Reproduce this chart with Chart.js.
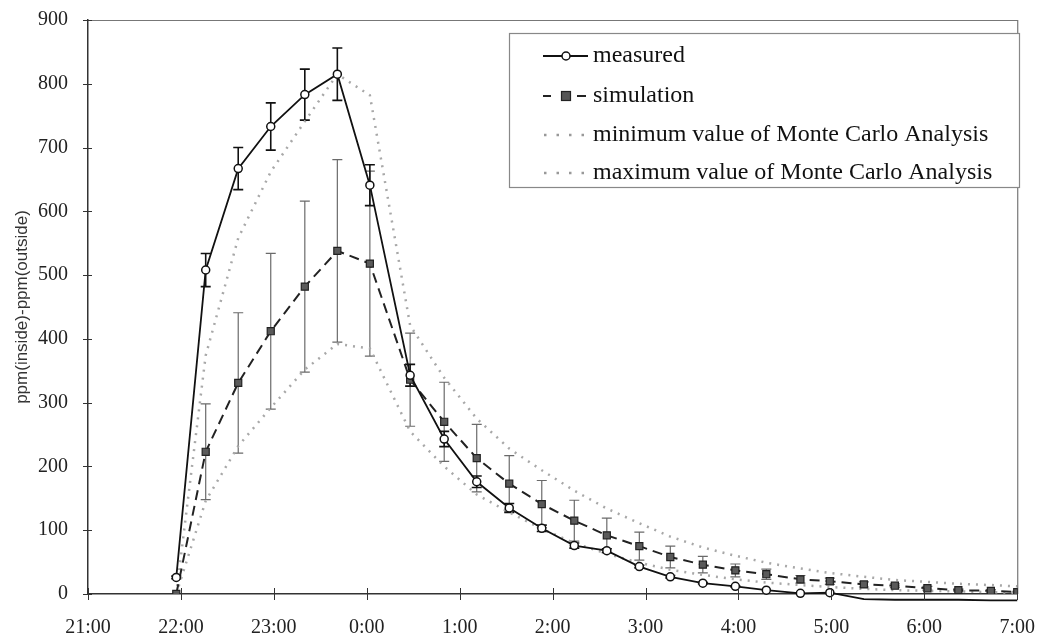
<!DOCTYPE html>
<html>
<head>
<meta charset="utf-8">
<title>ppm(inside)-ppm(outside)</title>
<script src="https://cdn.jsdelivr.net/npm/chart.js@4.4.1/dist/chart.umd.min.js"></script>
<style>
  html, body { margin: 0; padding: 0; background: #fff; }
  #wrap { width: 1049px; height: 636px; }
</style>
</head>
<body>
<div id="wrap"><canvas id="chart" width="1049" height="636"></canvas></div>
<script>
// sample times (clock time, night runs past midnight)
const times = ['21:57', '22:16', '22:37', '22:58', '23:20', '23:41', '0:02', '0:28', '0:50',
  '1:11', '1:32', '1:53', '2:14', '2:35', '2:56', '3:16', '3:37', '3:58', '4:18', '4:40',
  '4:59', '5:21', '5:41', '6:02', '6:22', '6:43', '7:00'];

const measured = [26, 508, 667, 733, 783, 815, 641, 343, 243, 176, 135, 103, 76, 68, 43,
  27, 17, 12, 6, 1, 2, -8, -9, -9, -9, -10, -10];
const measuredErr = [2, 26, 33, 37, 40, 41, 32, 17, 12, 9, 7, 5, 4, 3, 2, 2, 1, 1,
  0, 0, 0, 0, 0, 0, 0, 0, 0];

const simulation = [0, 223, 331, 412, 482, 538, 518, 336, 270, 213, 173, 141, 115, 92, 75,
  58, 46, 37, 31, 23, 20, 15, 13, 9, 6, 5, 3];
const simulationErr = [0, 75, 110, 122, 134, 143, 145, 73, 62, 53, 44, 37, 32, 27, 22,
  17, 13, 10, 8, 6, 5, 4, 3, 3, 2, 2, 1];

const mcMin = [0, 146, 232, 292, 352, 392, 385, 255, 200, 156, 128, 102, 80, 63, 49,
  38, 30, 23, 18, 14, 11, 8, 6, 5, 4, 3, 2];
const mcMax = [0, 374, 558, 662, 741, 815, 782, 421, 339, 275, 228, 194, 162, 134, 111,
  90, 73, 60, 49, 40, 33, 27, 22, 19, 16, 14, 12];

const xTickLabels = ['21:00', '22:00', '23:00', '0:00', '1:00', '2:00', '3:00', '4:00',
  '5:00', '6:00', '7:00'];
const yTitle = 'ppm(inside)-ppm(outside)';

const serif = '"Liberation Serif", "Times New Roman", serif';

function toHours(t) {
  const [h, m] = t.split(':').map(Number);
  let v = h + m / 60;
  if (v < 12) v += 24;
  return v;
}
const hours = times.map(toHours);
const pts = arr => arr.map((v, i) => ({x: hours[i], y: v}));

// error bars drawn under the lines
const errorBars = {
  id: 'errorBars',
  beforeDatasetsDraw(chart) {
    const {ctx, chartArea, scales: {x, y}} = chart;
    ctx.save();
    ctx.beginPath();
    ctx.rect(chartArea.left, chartArea.top, chartArea.width, chartArea.height);
    ctx.clip();
    const draw = (vals, errs, color, width) => {
      ctx.strokeStyle = color;
      ctx.lineWidth = width;
      vals.forEach((v, i) => {
        if (!errs[i]) return;
        const px = x.getPixelForValue(hours[i]);
        const top = y.getPixelForValue(v + errs[i]);
        const bot = y.getPixelForValue(v - errs[i]);
        ctx.beginPath();
        ctx.moveTo(px, top); ctx.lineTo(px, bot);
        ctx.moveTo(px - 5, top); ctx.lineTo(px + 5, top);
        ctx.moveTo(px - 5, bot); ctx.lineTo(px + 5, bot);
        ctx.stroke();
      });
    };
    draw(simulation, simulationErr, '#6a6a6a', 1.2);
    draw(measured, measuredErr, '#111', 1.6);
    ctx.restore();
  }
};

// plot frame (top/right) and tick marks crossing the axes
const frame = {
  id: 'frame',
  afterDraw(chart) {
    const {ctx, chartArea: a, scales: {x, y}} = chart;
    ctx.save();
    ctx.strokeStyle = '#777';
    ctx.lineWidth = 1.2;
    ctx.beginPath();
    ctx.moveTo(a.left, a.top + 0.5); ctx.lineTo(a.right + 0.5, a.top + 0.5);
    ctx.lineTo(a.right + 0.5, a.bottom);
    ctx.stroke();
    ctx.strokeStyle = '#333';
    ctx.lineWidth = 1;
    ctx.beginPath();
    y.ticks.forEach(t => {
      const py = Math.round(y.getPixelForValue(t.value)) + 0.5;
      ctx.moveTo(a.left - 5, py); ctx.lineTo(a.left + 4, py);
    });
    x.ticks.forEach(t => {
      const px = Math.round(x.getPixelForValue(t.value)) + 0.5;
      ctx.moveTo(px, a.bottom - 6); ctx.lineTo(px, a.bottom + 6);
    });
    ctx.stroke();
    ctx.restore();
  }
};

// boxed legend in the upper right
const boxLegend = {
  id: 'boxLegend',
  afterDraw(chart) {
    const ctx = chart.ctx;
    const sets = chart.data.datasets;
    ctx.save();
    ctx.fillStyle = '#fff';
    ctx.fillRect(509, 33, 510, 154);
    ctx.strokeStyle = '#888';
    ctx.lineWidth = 1.2;
    ctx.strokeRect(509.5, 33.5, 510, 154);
    const rows = [56, 96, 135, 173];
    sets.forEach((ds, i) => {
      const ry = rows[i];
      ctx.save();
      if (i === 0) {
        ctx.strokeStyle = '#111'; ctx.lineWidth = 1.8;
        ctx.beginPath(); ctx.moveTo(543, ry); ctx.lineTo(588, ry); ctx.stroke();
        ctx.fillStyle = '#fff'; ctx.lineWidth = 1.5;
        ctx.beginPath(); ctx.arc(566, ry, 4, 0, Math.PI * 2); ctx.fill(); ctx.stroke();
      } else if (i === 1) {
        ctx.strokeStyle = '#222'; ctx.lineWidth = 2;
        ctx.beginPath();
        ctx.moveTo(543, ry); ctx.lineTo(551, ry);
        ctx.moveTo(577, ry); ctx.lineTo(586, ry);
        ctx.stroke();
        ctx.fillStyle = '#555'; ctx.lineWidth = 1.2;
        ctx.fillRect(561.5, ry - 4.5, 9, 9); ctx.strokeRect(561.5, ry - 4.5, 9, 9);
      } else {
        ctx.strokeStyle = '#999'; ctx.lineWidth = 2.5;
        ctx.setLineDash([2.5, 10]);
        ctx.beginPath(); ctx.moveTo(544, ry); ctx.lineTo(590, ry); ctx.stroke();
      }
      ctx.restore();
      ctx.fillStyle = '#111';
      ctx.font = '24px ' + serif;
      ctx.textBaseline = 'middle';
      ctx.fillText(ds.label, 593, ry);
    });
    ctx.restore();
  }
};

new Chart(document.getElementById('chart'), {
  type: 'line',
  data: {
    datasets: [
      {
        label: 'measured',
        data: pts(measured),
        borderColor: '#111',
        borderWidth: 1.8,
        pointStyle: 'circle',
        pointRadius: ctx => (ctx.raw && ctx.raw.y < 0 ? 0 : 4),
        pointBackgroundColor: '#fff',
        pointBorderColor: '#111',
        pointBorderWidth: 1.5,
        clip: {left: 5, top: 5, right: 5, bottom: 8}
      },
      {
        label: 'simulation',
        data: pts(simulation),
        borderColor: '#222',
        borderWidth: 2,
        borderDash: [10, 6],
        pointStyle: 'rect',
        pointRadius: 5,
        pointBackgroundColor: '#5a5a5a',
        pointBorderColor: '#222',
        pointBorderWidth: 1.2
      },
      {
        label: 'minimum value of Monte Carlo Analysis',
        data: pts(mcMin),
        borderColor: '#a8a8a8',
        borderWidth: 2.5,
        borderDash: [2, 6],
        pointRadius: 0
      },
      {
        label: 'maximum value of Monte Carlo Analysis',
        data: pts(mcMax),
        borderColor: '#a8a8a8',
        borderWidth: 2.5,
        borderDash: [2, 6],
        pointRadius: 0
      }
    ]
  },
  options: {
    responsive: false,
    animation: false,
    devicePixelRatio: 1,
    layout: {padding: {top: 20, right: 23, left: 0, bottom: 0}},
    plugins: {legend: {display: false}, tooltip: {enabled: false}},
    scales: {
      x: {
        type: 'linear',
        min: 21,
        max: 31,
        afterFit: s => { s.height = 42; },
        grid: {display: false},
        border: {display: true, color: '#333', width: 1.5},
        ticks: {
          stepSize: 1,
          padding: 14,
          color: '#222',
          font: {family: serif, size: 20},
          maxRotation: 0,
          callback: v => xTickLabels[Math.round(v - 21)]
        }
      },
      y: {
        min: 0,
        max: 900,
        afterFit: s => { s.width = 88; s.paddingTop = 0; s.paddingBottom = 0; },
        grid: {display: false},
        border: {display: true, color: '#333', width: 1.5},
        ticks: {
          stepSize: 100,
          padding: 12,
          color: '#222',
          font: {family: serif, size: 20}
        },
        title: {
          display: true,
          text: yTitle,
          color: '#333',
          padding: {top: 12, bottom: 0},
          font: {family: '"Liberation Sans", Arial, sans-serif', size: 17}
        }
      }
    }
  },
  plugins: [errorBars, frame, boxLegend]
});
</script>
</body>
</html>
